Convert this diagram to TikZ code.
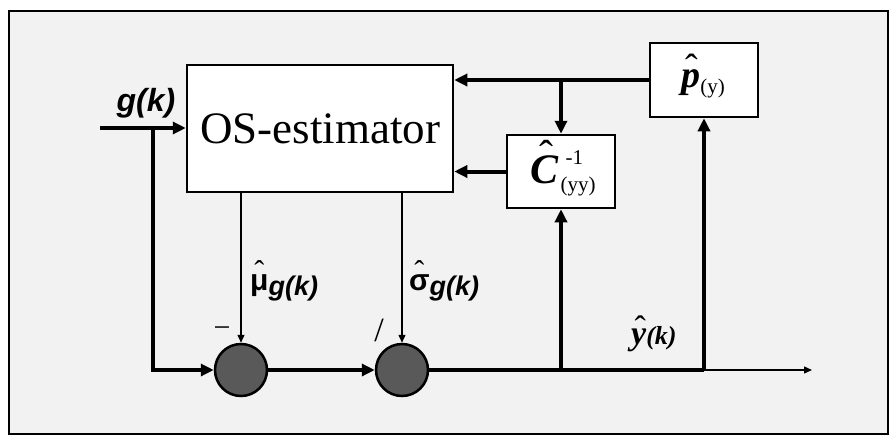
\documentclass[tikz,border=0pt]{standalone}
\usepackage{fontspec}
\setmainfont{Liberation Serif}
\newfontfamily\lsans{Liberation Sans}
\usetikzlibrary{arrows.meta}
% hat set above a letter: #1 shift right, #2 raise, #3 letter
\newcommand{\hatted}[3]{\ooalign{#3\cr\hidewidth\kern#1\raisebox{#2}{\normalfont\char"02C6}\hidewidth\cr}}
\newcommand{\gk}{{\lsans\bfseries\itshape g(k)}}
\begin{document}
\begin{tikzpicture}[x=1pt,y=-1pt,
  blk/.style={draw,line width=2.5pt,fill=white,inner sep=0pt},
  junc/.style={circle,draw,line width=2.5pt,fill=black!65,minimum size=52pt,inner sep=0pt},
  bus/.style={line width=4pt,-{Triangle[length=13pt,width=12pt]}},
  busline/.style={line width=4pt},
  wire/.style={line width=1.3pt,-{Triangle[length=8pt,width=7pt]}},
  lbl/.style={inner sep=0pt}]
\useasboundingbox (0,0) rectangle (894,439);
\draw[line width=1.5pt,fill=black!5] (9,11) rectangle (888,434);

% blocks
\node[blk,minimum width=266pt,minimum height=127pt] (os) at (320,128.5)
  {\fontsize{45}{45}\selectfont OS-estimator};
\node[blk,minimum width=108pt,minimum height=74pt] (pn) at (704,80) {};
\node[blk,minimum width=108pt,minimum height=73pt] (cinv) at (561,171.5) {};
\node[junc] (sub) at (241,370) {};
\node[junc] (dvd) at (402,370) {};

% block texts
\node[lbl] (ptxt) at (703,84) {\fontsize{38}{38}\selectfont
  \hatted{3pt}{0.2em}{\bfseries\itshape p}\raisebox{-6pt}{\fontsize{21}{21}\selectfont (y)}};
\node[lbl] (ctxt) at (563,173) {\fontsize{42}{42}\selectfont
  \hatted{4pt}{0.33em}{\bfseries\itshape C}\kern2pt\raisebox{-8pt}{\fontsize{21}{21}\selectfont
  \rlap{\raisebox{27pt}{\kern5pt-1}}(yy)}};

% coordinates
\coordinate (gin) at (100,128);
\coordinate (split) at (153,128);
\coordinate (ctap) at (cinv.south |- dvd);
\coordinate (ptap) at (pn.south |- dvd);
\coordinate (ctop) at (cinv.north |- pn.west);
\coordinate (yout) at (812,370);

% connectors
\draw[bus] (gin) -- (os.west |- gin);
\draw[bus] (split) |- (sub.west);
\draw[bus] (sub) -- (dvd);
\draw[busline] (dvd) -- (ptap);
\draw[wire] (ptap) -- (yout);
\draw[bus] (ctap) -- (cinv.south);
\draw[bus] (ptap) -- (pn.south);
\draw[bus] (pn.west) -- (os.east |- pn.west);
\draw[bus] (ctop) -- (cinv.north);
\draw[bus] (cinv.west) -- (os.east |- cinv.west);
\draw[wire] (os.south -| sub.north) -- (sub.north);
\draw[wire] (os.south -| dvd.north) -- (dvd.north);

% labels
\node[lbl] (glbl) at (146,103) {\fontsize{32}{32}\selectfont\gk};
\node[lbl,anchor=west] (mulbl) at (250,288) {\fontsize{30}{30}\selectfont
  \hatted{0pt}{0.3em}{\lsans\bfseries μ}\raisebox{-5pt}{\fontsize{27}{27}\selectfont\gk}};
\node[lbl,anchor=west] (siglbl) at (409,288) {\fontsize{30}{30}\selectfont
  \hatted{0pt}{0.3em}{\lsans\bfseries σ}\raisebox{-5pt}{\fontsize{27}{27}\selectfont\gk}};
\node[lbl,anchor=west] (ylbl) at (631,338) {\fontsize{34}{34}\selectfont
  \hatted{3pt}{0.15em}{\bfseries\itshape y}{\fontsize{26}{26}\selectfont\bfseries\itshape (k)}};
\node[lbl] (minus) at (222,332) {\fontsize{30}{30}\selectfont\char"2212};
\node[lbl] (slash) at (379,330) {\fontsize{34}{34}\selectfont /};
\end{tikzpicture}
\end{document}
